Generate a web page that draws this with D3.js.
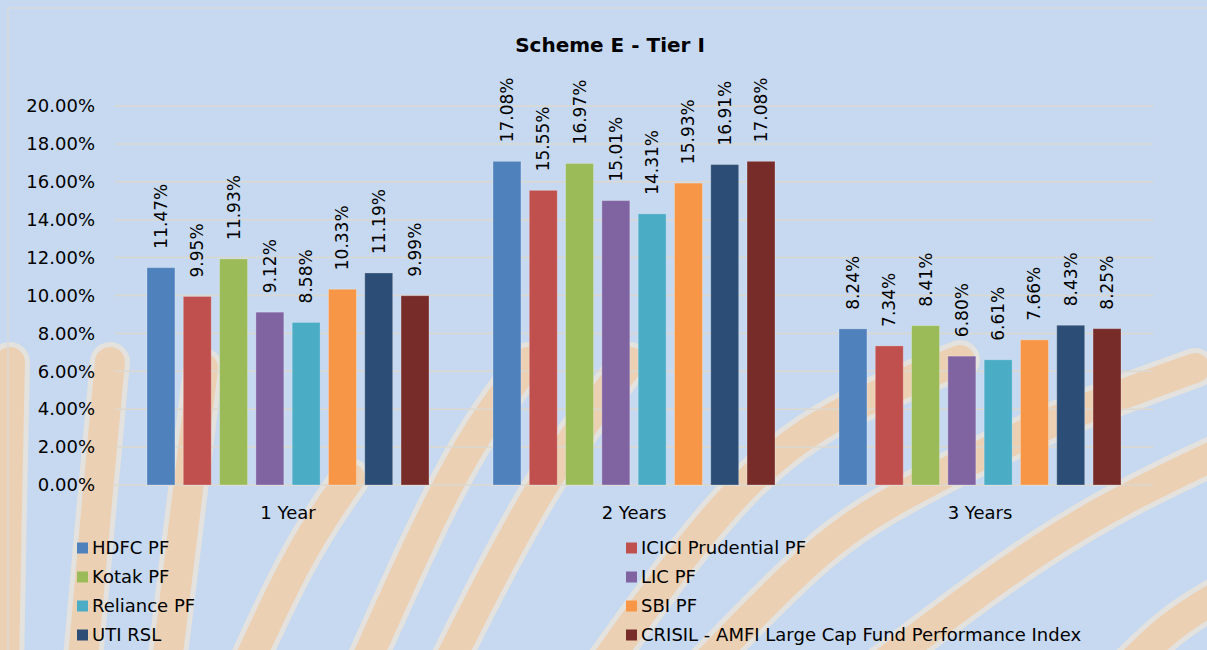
<!DOCTYPE html>
<html>
<head>
<meta charset="utf-8">
<script src="https://cdn.jsdelivr.net/npm/d3@7"></script>
<style>
  html, body { margin: 0; padding: 0; background: #c6d9f0; }
  svg { display: block; }
</style>
</head>
<body>
<svg id="chart" width="1207" height="650"></svg>
<script>
// ---- data ----
const title = "Scheme E - Tier I";
const categories = ["1 Year", "2 Years", "3 Years"];
const seriesNames = ["HDFC PF", "ICICI Prudential PF", "Kotak PF", "LIC PF", "Reliance PF", "SBI PF", "UTI RSL", "CRISIL - AMFI Large Cap Fund Performance Index"];
const hdfc     = [11.47, 17.08, 8.24];
const icici    = [9.95, 15.55, 7.34];
const kotak    = [11.93, 16.97, 8.41];
const lic      = [9.12, 15.01, 6.80];
const reliance = [8.58, 14.31, 6.61];
const sbi      = [10.33, 15.93, 7.66];
const uti      = [11.19, 16.91, 8.43];
const crisil   = [9.99, 17.08, 8.25];
const yTicks = [0, 2, 4, 6, 8, 10, 12, 14, 16, 18, 20];
const colors = ["#4f81bd", "#c0504d", "#9bbb59", "#8064a2", "#4bacc6", "#f79646", "#2c4d75", "#772c2a"];

const seriesValues = [hdfc, icici, kotak, lic, reliance, sbi, uti, crisil];

const svg = d3.select("#chart");
const W = 1207, H = 650;
const font = "'DejaVu Sans', sans-serif";

// background
svg.append("rect").attr("width", W).attr("height", H).attr("fill", "#c6d9f0");

// decorative brush stripes (background artwork)
const stripes = [
  [[10, 362], [7, 500], [4, 670]],
  [[110, 362], [97, 500], [82, 670]],
  [[203, 368], [188, 490], [166, 670]],
  [[245, 670], [300, 550], [350, 478]],
  [[362, 670], [420, 540], [470, 440], [528, 362]],
  [[445, 670], [540, 480], [630, 362]],
  [[600, 670], [700, 530], [800, 425], [960, 360]],
  [[700, 670], [820, 545], [900, 495], [1050, 420], [1195, 368]],
  [[875, 670], [1000, 575], [1100, 510], [1215, 455]],
  [[1125, 670], [1170, 625], [1215, 598]]
];
const stripeLine = d3.line().curve(d3.curveBasis);
const sg = svg.append("g");
stripes.forEach(s => {
  sg.append("path").attr("d", stripeLine(s)).attr("fill", "none")
    .attr("stroke", "#e9e3da").attr("stroke-opacity", 0.85).attr("stroke-width", 40).attr("stroke-linecap", "round");
  sg.append("path").attr("d", stripeLine(s)).attr("fill", "none")
    .attr("stroke", "#ecd0b3").attr("stroke-width", 30).attr("stroke-linecap", "round");
});

// chart border
svg.append("rect").attr("x", 8).attr("y", 8).attr("width", W).attr("height", H)
  .attr("fill", "none").attr("stroke", "#d9d9d9").attr("stroke-width", 1.5);

// title
svg.append("text").attr("x", 610).attr("y", 52).attr("text-anchor", "middle")
  .attr("font-family", font).attr("font-weight", "bold").attr("font-size", 20)
  .attr("fill", "#000").text(title);

// scales
const x0 = d3.scaleBand().domain(categories).range([115, 1153]).paddingInner(0).paddingOuter(0);
const x1 = d3.scaleBand().domain(seriesNames).range([32, 314]).paddingInner(0.23).paddingOuter(0);
const y = d3.scaleLinear().domain([0, 20]).range([485, 106]);

// gridlines
svg.append("g").selectAll("line").data(yTicks).join("line")
  .attr("x1", 115).attr("x2", 1153)
  .attr("y1", d => y(d)).attr("y2", d => y(d))
  .attr("stroke", "#dcd8cf").attr("stroke-width", 1.5);

// y axis labels
const yAxis = d3.axisLeft(y).tickValues(yTicks).tickSize(0).tickPadding(0)
  .tickFormat(d => d.toFixed(2) + "%");
const yg = svg.append("g").attr("transform", "translate(95,0)").call(yAxis);
yg.select(".domain").remove();
yg.selectAll("text").attr("font-family", font).attr("font-size", 18).attr("fill", "#000");

// x axis labels
const xAxis = d3.axisBottom(x0).tickSize(0).tickPadding(0);
const xg = svg.append("g").attr("transform", "translate(0,506)").call(xAxis);
xg.select(".domain").remove();
xg.selectAll("text").attr("font-family", font).attr("font-size", 18).attr("fill", "#000");

// bars
const groups = svg.append("g").selectAll("g").data(categories).join("g")
  .attr("transform", d => `translate(${x0(d)},0)`);

groups.each(function(cat, ci) {
  const g = d3.select(this);
  const rows = seriesNames.map((s, si) => ({ s, si, v: seriesValues[si][ci] }));
  g.selectAll("rect").data(rows).join("rect")
    .attr("x", d => x1(d.s))
    .attr("y", d => y(d.v))
    .attr("width", x1.bandwidth())
    .attr("height", d => y(0) - y(d.v))
    .attr("fill", d => colors[d.si])
    .attr("stroke", "rgba(255,255,255,0.25)").attr("stroke-width", 1);
  g.selectAll("text").data(rows).join("text")
    .attr("transform", d => `translate(${x1(d.s) + x1.bandwidth() / 2},${y(d.v) - 19}) rotate(-90)`)
    .attr("dy", "0.35em")
    .attr("text-anchor", "start")
    .attr("font-family", font).attr("font-size", 17).attr("fill", "#000")
    .text(d => d.v.toFixed(2) + "%");
});

// legend
const legendCols = [77, 626];
const legendRows = [548, 577, 606, 635];
const lg = svg.append("g");
const items = lg.selectAll("g").data(seriesNames).join("g")
  .attr("transform", (d, i) => `translate(${legendCols[i % 2]},${legendRows[Math.floor(i / 2)]})`);
items.append("rect").attr("x", 0).attr("y", -5.5).attr("width", 11).attr("height", 11)
  .attr("fill", (d, i) => colors[i]);
items.append("text").attr("x", 15).attr("y", 0).attr("dy", "0.35em")
  .attr("font-family", font).attr("font-size", 18).attr("fill", "#000")
  .text(d => d);
</script>
</body>
</html>
